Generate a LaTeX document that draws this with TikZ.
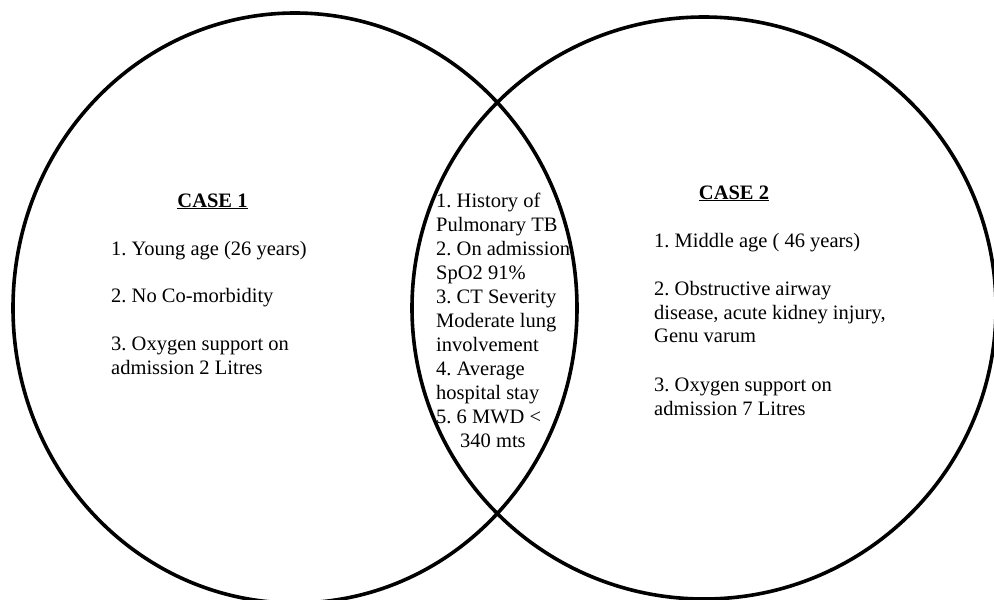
\documentclass[tikz,border=0pt]{standalone}
\usepackage{fontspec}
\setmainfont{Liberation Serif}
\frenchspacing
\begin{document}
\begin{tikzpicture}[x=1pt,y=-1pt,
  ring/.style={draw=black,line width=3.6pt},
  txt/.style={anchor=base west,inner sep=0pt,font=\fontsize{20.5}{24}\selectfont},
  head/.style={anchor=base,inner sep=0pt,font=\fontsize{20.5}{24}\selectfont\bfseries}]
\useasboundingbox (0,0) rectangle (994,600);
\fill[white] (0,0) rectangle (994,600);
\draw[ring] (295,308) ellipse [x radius=282, y radius=295];
\draw[ring] (704,308) ellipse [x radius=292, y radius=291];
% Case 1
\node[head] (c1) at (212.5,207) {\underline{CASE 1}};
\node[txt] (l1) at (111,255) {1. Young age (26 years)};
\node[txt] (l2) at (111,302) {2. No Co-morbidity};
\node[txt] (l3) at (111,350) {3. Oxygen support on};
\node[txt] (l4) at (111,374) {admission 2 Litres};
% common
\node[txt] (m1) at (436,207) {1. History of};
\node[txt] (m2) at (436,231) {Pulmonary TB};
\node[txt] (m3) at (436,255) {2. On admission};
\node[txt] (m4) at (436,279) {SpO2 91\%};
\node[txt] (m5) at (436,303) {3. CT Severity};
\node[txt] (m6) at (436,327) {Moderate lung};
\node[txt] (m7) at (436,351) {involvement};
\node[txt] (m8) at (436,375) {4. Average};
\node[txt] (m9) at (436,399) {hospital stay};
\node[txt] (m10) at (436,423) {5. 6 MWD <};
\node[txt] (m11) at (460,447) {340 mts};
% Case 2
\node[head] (c2) at (734,199) {\underline{CASE 2}};
\node[txt] (r1) at (654,247) {1. Middle age ( 46 years)};
\node[txt] (r2) at (654,295) {2. Obstructive airway};
\node[txt] (r3) at (654,319) {disease, acute kidney injury,};
\node[txt] (r4) at (654,342) {Genu varum};
\node[txt] (r5) at (654,391) {3. Oxygen support on};
\node[txt] (r6) at (654,415) {admission 7 Litres};
\end{tikzpicture}
\end{document}
